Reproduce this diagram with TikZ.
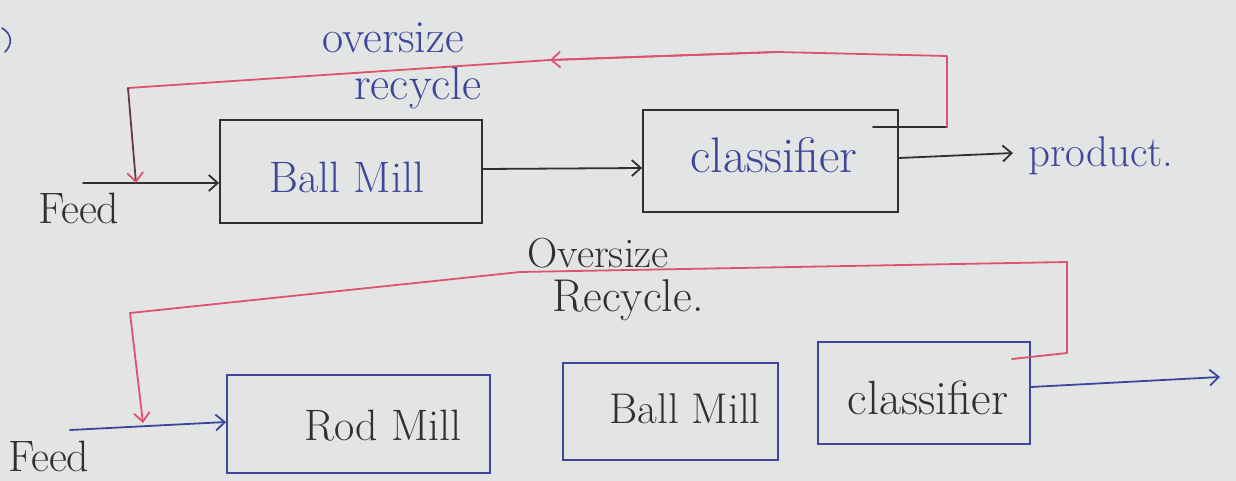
\documentclass[tikz,border=0pt]{standalone}
\usetikzlibrary{arrows.meta}
\definecolor{paper}{RGB}{227,229,229}
\definecolor{pencil}{RGB}{48,48,52}
\definecolor{blueink}{RGB}{60,70,155}
\definecolor{redink}{RGB}{220,82,112}
\tikzset{
  unit/.style={draw, rectangle, inner sep=0pt, line width=1.8pt},
  hand/.style={inner sep=0pt, font=\fontsize{44}{48}\selectfont},
  flow/.style={line width=1.8pt, line cap=round, line join=round},
  tip/.style={-{Straight Barb[length=9pt,width=16pt,line width=1.8pt]}},
  redtip/.style={-{Straight Barb[length=9pt,width=16pt,line width=1.8pt,color=redink]}},
}
\begin{document}
\begin{tikzpicture}[x=1pt,y=-1pt]
\fill[paper] (0,0) rectangle (1236,481);
\useasboundingbox (0,0) rectangle (1236,481);

% stray pen stroke at the left edge
\draw[blueink, line width=1.6pt, line cap=round] (2,28) .. controls (12,34) and (13,44) .. (5,52);

% ---------------- closed circuit: ball mill + classifier ----------------
\node[unit, draw=pencil, minimum width=262pt, minimum height=103pt] (bm1) at (351,171.5) {};
\node[unit, draw=pencil, minimum width=255pt, minimum height=102pt] (cl1) at (770.5,161) {};
\node[hand, blueink] (bm1txt) at (347,177) {Ball Mill};
\node[hand, blueink, font=\fontsize{50}{54}\selectfont] (cl1txt) at (774,155) {classifier};

\coordinate (feed1) at (83,183);
\coordinate (prod1) at (1013,153);
\node[hand, pencil, anchor=west] (feed1txt) at (38,208) {Feed};
\node[hand, blueink, anchor=west, font=\fontsize{43}{47}\selectfont] (prod1txt) at (1028,156) {product.};
\node[hand, blueink, font=\fontsize{46}{50}\selectfont] (os1) at (393,38) {oversize};
\node[hand, blueink, font=\fontsize{47}{50}\selectfont] (rc1) at (418,88) {recycle};

\draw[flow, pencil, tip] (feed1) -- (bm1.west |- feed1);
\draw[flow, pencil, tip] (bm1.east |- 0,169) -- (cl1.west |- 0,168);
\draw[flow, pencil, tip] (cl1.east |- 0,158) -- (prod1);

% oversize return line
\coordinate (r1a) at (873,127);
\coordinate (r1b) at (947,127);
\coordinate (r1c) at (947,56);
\coordinate (r1d) at (777,52);
\coordinate (r1e) at (550,60);
\coordinate (r1f) at (128,88);
\coordinate (r1g) at (136,183);
\draw[flow, pencil] (r1a) -- (r1b);
\draw[flow, redink] (r1b) -- (r1c) -- (r1d) -- (r1e);
\draw[flow, redink, redtip] (r1d) -- (r1e);
\draw[flow, redink] (r1e) -- (r1f);
\draw[flow, pencil!70!redink, redtip] (r1f) -- (r1g);

% ---------------- rod mill + ball mill + classifier ----------------
\node[unit, draw=blueink, minimum width=263pt, minimum height=98pt] (rm2) at (358.5,424) {};
\node[unit, draw=blueink, minimum width=215pt, minimum height=97pt] (bm2) at (670.5,411.5) {};
\node[unit, draw=blueink, minimum width=212pt, minimum height=102pt] (cl2) at (924,393) {};
\node[hand, pencil] (rm2txt) at (383,426) {Rod Mill};
\node[hand, pencil, font=\fontsize{43}{47}\selectfont] (bm2txt) at (685,409) {Ball Mill};
\node[hand, pencil, font=\fontsize{48}{52}\selectfont] (cl2txt) at (928,398) {classifier};

\coordinate (feed2) at (70,430);
\coordinate (out2) at (1220,377);
\node[hand, pencil, anchor=west] (feed2txt) at (8,456) {Feed};
\node[hand, pencil, font=\fontsize{42}{46}\selectfont] (os2) at (598,253) {Oversize};
\node[hand, pencil, font=\fontsize{46}{50}\selectfont] (rc2) at (628,300) {Recycle.};

\draw[flow, blueink, tip] (feed2) -- (rm2.west |- 0,422);
\draw[flow, blueink, tip] (cl2.east |- 0,387) -- (out2);

% oversize return line
\coordinate (r2a) at (1012,359);
\coordinate (r2b) at (1067,353);
\coordinate (r2c) at (1067,262);
\coordinate (r2d) at (520,272);
\coordinate (r2e) at (130,313);
\coordinate (r2f) at (143,423);
\draw[flow, redink] (r2a) -- (r2b) -- (r2c) -- (r2d) -- (r2e);
\draw[flow, redink, redtip] (r2e) -- (r2f);
\end{tikzpicture}
\end{document}
